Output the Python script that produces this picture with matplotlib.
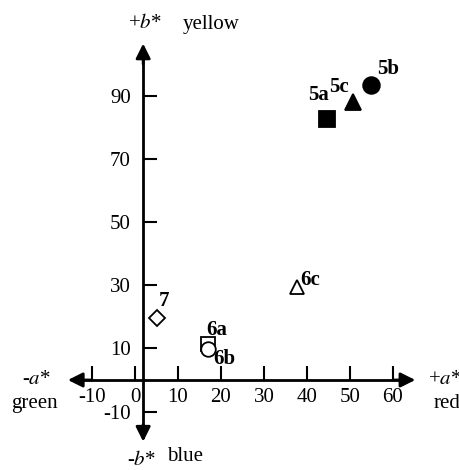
import matplotlib.pyplot as plt

plt.rcParams['font.family'] = 'Liberation Serif'
plt.rcParams['mathtext.fontset'] = 'stix'
plt.rcParams['axes.unicode_minus'] = False

# CIELAB coordinates (a*, b*)
labels = ['5a', '5b', '5c', '6a', '6b', '6c', '7']
a_vals = [44.7, 54.9, 50.7, 17.0, 17.0, 37.6, 5.1]
b_vals = [82.6, 93.3, 88.0, 11.4, 9.8, 29.4, 19.6]
markers = ['s', 'o', '^', 's', 'o', '^', 'D']
filled = [True, True, True, False, False, False, False]

xticks = [-10, 0, 10, 20, 30, 40, 50, 60]
yticks = [-10, 10, 30, 50, 70, 90]

fig = plt.figure(figsize=(4.6, 4.7), dpi=100)
ax = fig.add_axes([0, 0, 1, 1])
ax.set_xlim(-31.4, 75.6)
ax.set_ylim(-28.5, 120.3)

# axes cross near the origin, like the hand drawn original
ax.spines['left'].set_position(('data', 1.9))
ax.spines['bottom'].set_position(('data', 0))
ax.spines['right'].set_visible(False)
ax.spines['top'].set_visible(False)
ax.spines['left'].set_bounds(-18, 104)
ax.spines['bottom'].set_bounds(-14, 63)
for s in ['left', 'bottom']:
    ax.spines[s].set_linewidth(2)

ax.set_xticks(xticks)
ax.set_yticks(yticks)
ax.tick_params(axis='both', direction='in', length=10, width=1.5, labelsize=15)
ax.tick_params(axis='x', pad=6)
ax.tick_params(axis='y', pad=9)

# arrow heads on both axes
arrow = dict(arrowstyle='-|>', mutation_scale=22, lw=2, color='black', shrinkA=0, shrinkB=0)
ax.annotate('', xy=(65.2, 0), xytext=(60, 0), arrowprops=arrow)
ax.annotate('', xy=(-15.6, 0), xytext=(-10, 0), arrowprops=arrow)
ax.annotate('', xy=(1.9, 106.5), xytext=(1.9, 100), arrowprops=arrow)
ax.annotate('', xy=(1.9, -19.5), xytext=(1.9, -14), arrowprops=arrow)

# samples
sizes = {'s': 12, 'o': 12, '^': 12, 'D': 10}
for a, b, m, f in zip(a_vals, b_vals, markers, filled):
    ms = sizes[m] if f else sizes[m] - 1.5
    ax.plot(a, b, marker=m, ms=ms, color='black',
            mfc='black' if f else 'white', mew=1.3, ls='none')

offsets = {'5a': (-6, 17), '5b': (12, 12), '5c': (-10, 11), '6a': (6, 10),
           '6b': (12, -7), '6c': (10, 5), '7': (5, 12)}
for lab, a, b in zip(labels, a_vals, b_vals):
    ax.annotate(lab, (a, b), xytext=offsets[lab], textcoords='offset points',
                ha='center', va='center', fontsize=15, fontweight='bold')

# axis captions
ax.text(-23, 0.3, r'-$a$*', fontsize=15, ha='center', va='center')
ax.text(-23.5, -7.3, 'green', fontsize=15, ha='center', va='center')
ax.text(72, 0.3, r'+$a$*', fontsize=15, ha='center', va='center')
ax.text(72.5, -7.3, 'red', fontsize=15, ha='center', va='center')
ax.text(2.3, 113, r'+$b$*', fontsize=15, ha='center', va='center')
ax.text(11.2, 112.5, 'yellow', fontsize=15, ha='left', va='center')
ax.text(1.5, -25.5, r'-$b$*', fontsize=15, ha='center', va='center')
ax.text(7.5, -24.3, 'blue', fontsize=15, ha='left', va='center')

fig.savefig('out.png', dpi=100)
